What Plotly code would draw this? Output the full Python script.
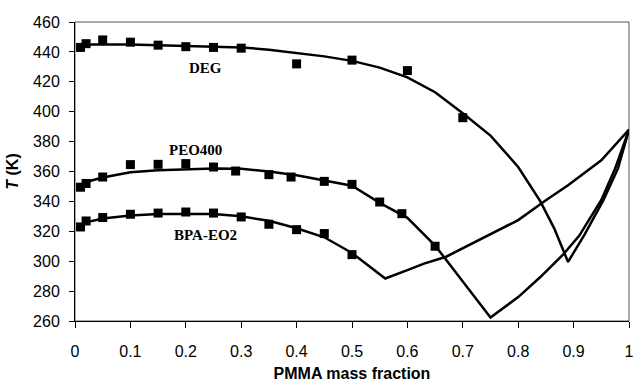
import plotly.graph_objects as go

# measured points
deg_x = [0.01, 0.02, 0.05, 0.1, 0.15, 0.2, 0.25, 0.3, 0.4, 0.5, 0.6, 0.7]
deg_y = [443, 445.5, 448, 446.5, 444.5, 443.5, 443, 442.5, 432, 434.5, 427.5, 396]
peo_x = [0.01, 0.02, 0.05, 0.1, 0.15, 0.2, 0.25, 0.29, 0.35, 0.39, 0.45, 0.5, 0.55, 0.59, 0.65]
peo_y = [349.5, 352, 356.3, 364.6, 364.8, 365.3, 363, 360.3, 357.9, 356.3, 353.4, 351.4, 339.6, 331.8, 310]
bpa_x = [0.01, 0.02, 0.05, 0.1, 0.15, 0.2, 0.25, 0.3, 0.35, 0.4, 0.45, 0.5]
bpa_y = [322.9, 326.9, 329.2, 331.4, 332.2, 332.9, 332.2, 329.6, 324.7, 321.1, 318.5, 304.4]

# model curves
deg_cx = [0.003, 0.03, 0.1, 0.2, 0.3, 0.35, 0.4, 0.45, 0.5, 0.55, 0.6, 0.65, 0.7, 0.75, 0.8, 0.84, 0.865, 0.89,
          0.92, 0.954, 0.98, 1.0]
deg_cy = [443, 445, 445, 444, 443, 441.5, 439.5, 437, 434, 429.5, 423, 413, 399, 384, 363, 340, 322, 299.5,
          318, 341, 362, 388]
peo_cx = [0.003, 0.02, 0.05, 0.1, 0.15, 0.2, 0.25, 0.3, 0.35, 0.4, 0.45, 0.5, 0.55, 0.6, 0.65, 0.7, 0.75,
          0.8, 0.84, 0.88, 0.91, 0.95, 0.975, 1.0]
peo_cy = [347.5, 353, 356, 359.5, 360.8, 361.5, 362, 361.8, 360, 357.5, 354, 350.5, 339, 329, 310.5, 286.5, 262.3,
          276, 289.4, 304, 317, 341, 362, 388]
bpa_cx = [0.003, 0.02, 0.05, 0.1, 0.15, 0.2, 0.25, 0.3, 0.35, 0.4, 0.45, 0.5, 0.56,
          0.6, 0.63, 0.67, 0.71, 0.75, 0.8, 0.85, 0.89, 0.95, 1.0]
bpa_cy = [321.8, 326, 328.5, 330.5, 331.5, 331.7, 331.5, 330, 327, 322, 316, 305.5, 288.4,
          294, 298.4, 303, 310.6, 318.5, 327.5, 340.7, 350.8, 367.5, 388]

labels = ["DEG", "PEO400", "BPA-EO2"]
label_x = [0.236, 0.218, 0.236]
label_y = [429, 374.5, 317.5]

x_ticks = [0, 0.1, 0.2, 0.3, 0.4, 0.5, 0.6, 0.7, 0.8, 0.9, 1]
x_tick_text = ["0", "0.1", "0.2", "0.3", "0.4", "0.5", "0.6", "0.7", "0.8", "0.9", "1"]
y_ticks = [260, 280, 300, 320, 340, 360, 380, 400, 420, 440, 460]

fig = go.Figure()
for cx, cy in [(deg_cx, deg_cy), (peo_cx, peo_cy), (bpa_cx, bpa_cy)]:
    fig.add_trace(go.Scatter(x=cx, y=cy, mode="lines", line=dict(color="black", width=2.5),
                             showlegend=False, hoverinfo="skip"))
for px, py in [(deg_x, deg_y), (peo_x, peo_y), (bpa_x, bpa_y)]:
    fig.add_trace(go.Scatter(x=px, y=py, mode="markers",
                             marker=dict(symbol="square", size=9, color="black"), showlegend=False))

for t, lx, ly in zip(labels, label_x, label_y):
    fig.add_annotation(x=lx, y=ly, text="<b>" + t + "</b>", showarrow=False,
                       font=dict(family="Liberation Serif", size=15, color="black"))

fig.add_shape(type="rect", xref="paper", yref="paper", x0=0, x1=1, y0=0, y1=1,
              line=dict(color="#555555", width=1), layer="below")

fig.update_layout(
    width=634, height=383,
    margin=dict(l=75, r=5, t=22, b=62),
    plot_bgcolor="white", paper_bgcolor="white",
    font=dict(family="Liberation Sans, Arial", size=16, color="black"),
    xaxis=dict(range=[0, 1], tickvals=x_ticks, ticktext=x_tick_text, showgrid=False, zeroline=False,
               showline=True, linecolor="black", linewidth=1, ticks="outside", ticklen=6,
               tickcolor="black", ticklabelstandoff=10, automargin=False, ticklabeloverflow="allow",
               title=dict(text="<b>PMMA mass fraction</b>", font=dict(size=16), standoff=8)),
    yaxis=dict(range=[260, 460], tickvals=y_ticks, showgrid=False, zeroline=False,
               showline=True, linecolor="black", linewidth=1, ticks="outside", ticklen=5,
               tickcolor="black", ticklabelstandoff=6, automargin=False,
               title=dict(text="<b><i>T</i> (K)</b>", font=dict(size=16), standoff=10)),
)

fig.write_html("out.html", config={"displayModeBar": False},
               post_script="document.body.style.margin='0';document.body.style.overflow='hidden';")
